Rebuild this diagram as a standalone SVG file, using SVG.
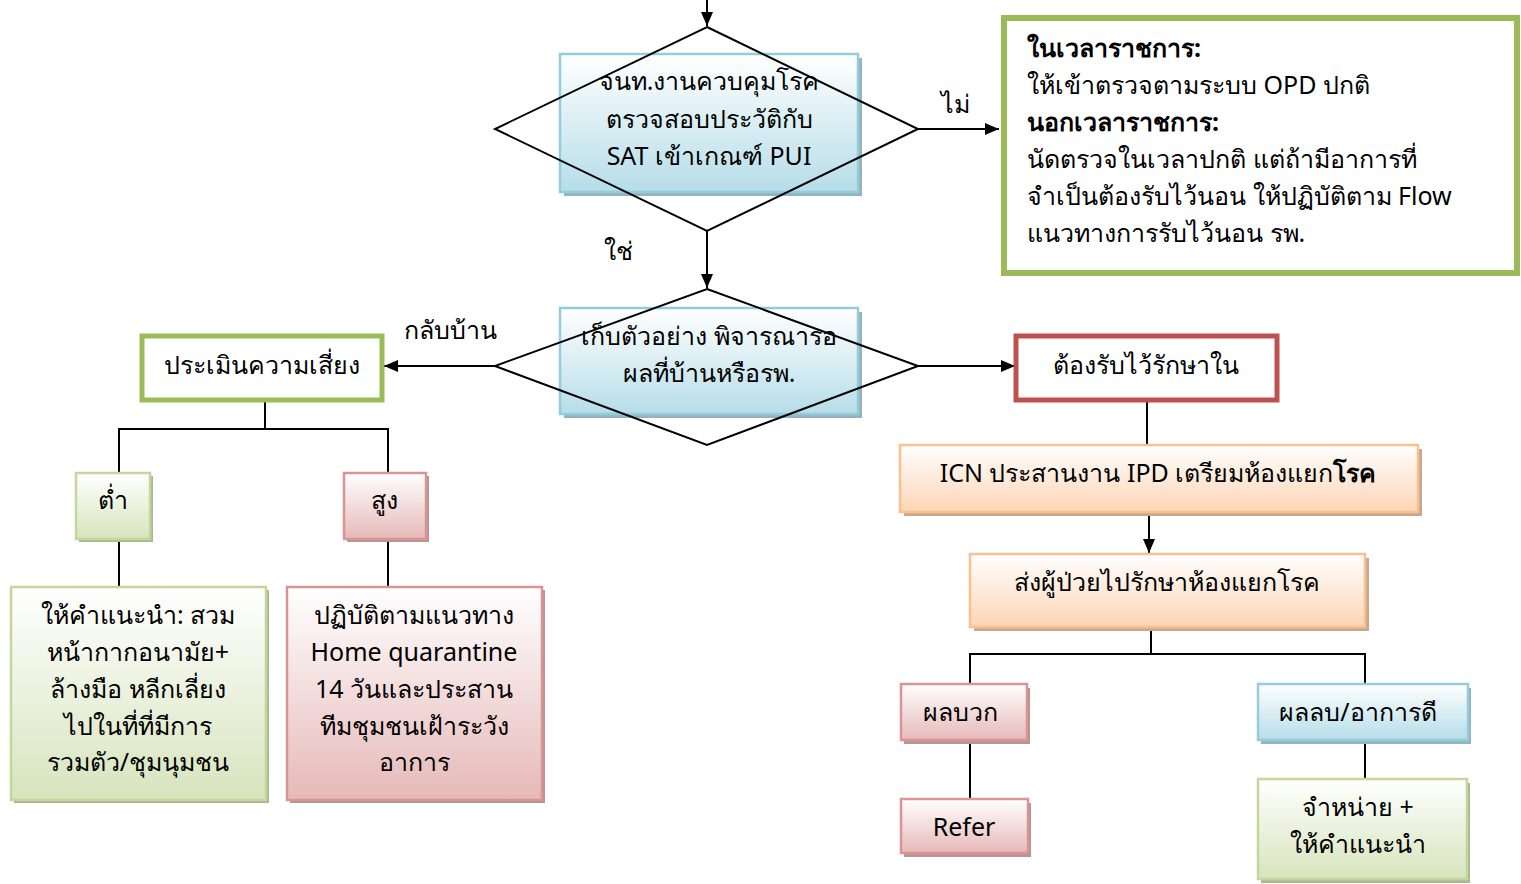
<svg xmlns="http://www.w3.org/2000/svg" width="1521" height="884" viewBox="0 0 1521 884">
<defs>
<linearGradient id="gBlue" x1="0" y1="0" x2="0" y2="1"><stop offset="0" stop-color="#ffffff"/><stop offset="1" stop-color="#b6dde8"/></linearGradient>
<linearGradient id="gGreen" x1="0" y1="0" x2="0" y2="1"><stop offset="0" stop-color="#ffffff"/><stop offset="1" stop-color="#d7e4bd"/></linearGradient>
<linearGradient id="gPink" x1="0" y1="0" x2="0" y2="1"><stop offset="0" stop-color="#ffffff"/><stop offset="1" stop-color="#e6b9b8"/></linearGradient>
<linearGradient id="gOrange" x1="0" y1="0" x2="0" y2="1"><stop offset="0" stop-color="#ffffff"/><stop offset="1" stop-color="#fcd5b5"/></linearGradient>
<marker id="arr" markerWidth="14" markerHeight="14" refX="14" refY="7" orient="auto" markerUnits="userSpaceOnUse" viewBox="0 0 14 14"><path d="M0,1 L14,7 L0,13 Z" fill="#000"/></marker>
</defs>
<style>
text{font-family:"Noto Sans","DejaVu Sans","Liberation Sans",sans-serif;font-size:25px;fill:#000}
.c{text-anchor:middle}
.b{font-weight:bold}
.ln{stroke:#000;stroke-width:2;fill:none}
.dm{stroke:#000;stroke-width:2;fill:none}
.sb{fill:#93b3bd}
.sg{fill:#a8b88f}
.sp{fill:#b89594}
.so{fill:#c9a88c}
.blue{fill:url(#gBlue);stroke:#93cddd;stroke-width:2.5}
.green{fill:url(#gGreen);stroke:#c3d69b;stroke-width:2.5}
.pink{fill:url(#gPink);stroke:#d99594;stroke-width:2.5}
.orange{fill:url(#gOrange);stroke:#fac090;stroke-width:2.5}
</style>
<rect width="1521" height="884" fill="#ffffff"/>

<g id="connectors">
<line class="ln" x1="707" y1="0" x2="707" y2="26" marker-end="url(#arr)"/>
<line class="ln" x1="918" y1="129" x2="999" y2="129" marker-end="url(#arr)"/>
<line class="ln" x1="707" y1="231" x2="707" y2="288" marker-end="url(#arr)"/>
<line class="ln" x1="495" y1="366" x2="384" y2="366" marker-end="url(#arr)"/>
<line class="ln" x1="918" y1="366" x2="1015" y2="366" marker-end="url(#arr)"/>
<polyline class="ln" points="265,401 265,429"/>
<polyline class="ln" points="119,473 119,429 388,429 388,473"/>
<line class="ln" x1="119" y1="539" x2="119" y2="587"/>
<line class="ln" x1="388" y1="539" x2="388" y2="587"/>
<line class="ln" x1="1147" y1="400" x2="1147" y2="445"/>
<line class="ln" x1="1149" y1="512" x2="1149" y2="553" marker-end="url(#arr)"/>
<line class="ln" x1="1151" y1="627" x2="1151" y2="654"/>
<polyline class="ln" points="970,684 970,654 1365,654 1365,684"/>
<line class="ln" x1="970" y1="740" x2="970" y2="799"/>
<line class="ln" x1="1365" y1="740" x2="1365" y2="779"/>
<text x="955" y="113" class="c">ไม่</text>
<text x="618" y="260" class="c">ใช่</text>
<text x="450" y="339" class="c">กลับบ้าน</text>
</g>

<g id="node-check">
<rect class="sb" x="564" y="58" width="298" height="138"/>
<rect class="blue" x="560" y="54" width="298" height="138"/>
<polygon class="dm" points="707,27 918,129 707,231 495,129"/>
<text x="709" y="90" class="c">จนท.งานควบคุมโรค</text>
<text x="709" y="128" class="c">ตรวจสอบประวัติกับ</text>
<text x="709" y="165" class="c">SAT เข้าเกณฑ์ PUI</text>
</g>

<g id="node-office">
<rect x="1004" y="18" width="513" height="255" fill="#ffffff" stroke="#9bbb59" stroke-width="6"/>
<text x="1027" y="57" class="b">ในเวลาราชการ:</text>
<text x="1027" y="94">ให้เข้าตรวจตามระบบ OPD ปกติ</text>
<text x="1027" y="131" class="b">นอกเวลาราชการ:</text>
<text x="1027" y="168">นัดตรวจในเวลาปกติ แต่ถ้ามีอาการที่</text>
<text x="1027" y="205">จำเป็นต้องรับไว้นอน ให้ปฏิบัติตาม Flow</text>
<text x="1027" y="242">แนวทางการรับไว้นอน รพ.</text>
</g>

<g id="node-sample">
<rect class="sb" x="564" y="312" width="298" height="106"/>
<rect class="blue" x="560" y="308" width="298" height="106"/>
<polygon class="dm" points="707,289 918,366 707,445 495,366"/>
<text x="709" y="345" class="c">เก็บตัวอย่าง พิจารณารอ</text>
<text x="709" y="382" class="c">ผลที่บ้านหรือรพ.</text>
</g>

<g id="node-risk">
<rect x="142" y="336" width="240" height="64" fill="#ffffff" stroke="#9bbb59" stroke-width="5"/>
<text x="262" y="374" class="c">ประเมินความเสี่ยง</text>
</g>

<g id="node-admit">
<rect x="1016" y="336" width="261" height="64" fill="#ffffff" stroke="#c0504d" stroke-width="5"/>
<text x="1146" y="374" class="c">ต้องรับไว้รักษาใน</text>
</g>

<g id="node-low">
<rect class="sg" x="79" y="476" width="74" height="66"/>
<rect class="green" x="76" y="473" width="74" height="66"/>
<text x="113" y="509" class="c">ต่ำ</text>
</g>

<g id="node-high">
<rect class="sp" x="347" y="476" width="82" height="66"/>
<rect class="pink" x="344" y="473" width="82" height="66"/>
<text x="384" y="509" class="c">สูง</text>
</g>

<g id="node-advice">
<rect class="sg" x="14" y="590" width="255" height="213"/>
<rect class="green" x="11" y="587" width="255" height="213"/>
<text x="138" y="624" class="c">ให้คำแนะนำ: สวม</text>
<text x="138" y="661" class="c">หน้ากากอนามัย+</text>
<text x="138" y="698" class="c">ล้างมือ หลีกเลี่ยง</text>
<text x="138" y="735" class="c">ไปในที่ที่มีการ</text>
<text x="138" y="771" class="c">รวมตัว/ชุมนุมชน</text>
</g>

<g id="node-quarantine">
<rect class="sp" x="290" y="590" width="255" height="213"/>
<rect class="pink" x="287" y="587" width="255" height="213"/>
<text x="414" y="624" class="c">ปฏิบัติตามแนวทาง</text>
<text x="414" y="661" class="c">Home quarantine</text>
<text x="414" y="698" class="c">14 วันและประสาน</text>
<text x="414" y="735" class="c">ทีมชุมชนเฝ้าระวัง</text>
<text x="414" y="771" class="c">อาการ</text>
</g>

<g id="node-icn">
<rect class="so" x="904" y="449" width="518" height="67"/>
<rect class="orange" x="900" y="445" width="518" height="67"/>
<text x="1158" y="482" class="c">ICN ประสานงาน IPD เตรียมห้องแยก<tspan class="b">โรค</tspan></text>
</g>

<g id="node-send">
<rect class="so" x="974" y="558" width="395" height="73"/>
<rect class="orange" x="970" y="554" width="395" height="73"/>
<text x="1167" y="591" class="c">ส่งผู้ป่วยไปรักษาห้องแยกโรค</text>
</g>

<g id="node-positive">
<rect class="sp" x="904" y="688" width="126" height="56"/>
<rect class="pink" x="901" y="684" width="126" height="56"/>
<text x="960" y="721" class="c">ผลบวก</text>
</g>

<g id="node-refer">
<rect class="sp" x="904" y="803" width="127" height="54"/>
<rect class="pink" x="901" y="799" width="127" height="54"/>
<text x="964" y="836" class="c">Refer</text>
</g>

<g id="node-negative">
<rect class="sb" x="1261" y="688" width="210" height="56"/>
<rect class="blue" x="1258" y="684" width="210" height="56"/>
<text x="1358" y="721" class="c">ผลลบ/อาการดี</text>
</g>

<g id="node-discharge">
<rect class="sg" x="1261" y="783" width="209" height="100"/>
<rect class="green" x="1258" y="779" width="209" height="100"/>
<text x="1358" y="816" class="c">จำหน่าย +</text>
<text x="1358" y="853" class="c">ให้คำแนะนำ</text>
</g>
</svg>
